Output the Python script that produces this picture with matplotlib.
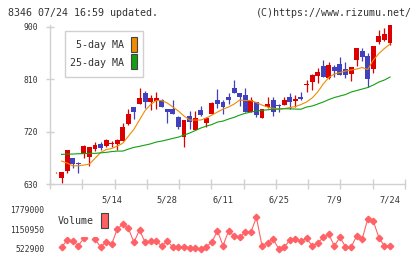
import matplotlib
matplotlib.use('Agg')
import matplotlib.pyplot as plt
import numpy as np
from matplotlib.patches import Rectangle

# daily candles, 4/25 .. 7/24
opens = [650, 640, 653, 674, 665, 681, 677, 690, 698, 695,
         699, 698, 704, 733, 763, 768, 786, 770, 773, 775,
         759, 759, 745, 711, 747, 723, 757, 734, 750, 774,
         770, 780, 794, 786, 783, 754, 770, 744, 763, 774,
         765, 765, 779, 772, 780, 800, 805, 816, 832, 812,
         831, 836, 827, 819, 843, 858, 850, 827, 873, 877, 872]
highs = [651, 650, 688, 674, 668, 697, 693, 702, 702, 708,
         704, 707, 735, 758, 763, 794, 790, 783, 788, 776,
         759, 774, 747, 740, 756, 755, 764, 745, 771, 793,
         775, 786, 808, 786, 794, 779, 770, 758, 779, 779,
         768, 779, 787, 783, 788, 808, 819, 829, 843, 840,
         834, 848, 840, 831, 864, 863, 854, 867, 894, 897, 903]
lows = [649, 631, 649, 658, 649, 675, 661, 686, 688, 693,
        693, 688, 704, 731, 741, 768, 760, 757, 758, 762,
        735, 750, 725, 694, 725, 722, 747, 727, 750, 760,
        751, 768, 786, 764, 754, 754, 745, 744, 760, 747,
        754, 765, 758, 763, 774, 788, 791, 804, 814, 811,
        814, 817, 812, 807, 833, 841, 797, 820, 871, 875, 868]
closes = [650, 650, 688, 665, 664, 695, 693, 697, 691, 705,
          700, 705, 727, 751, 754, 778, 771, 777, 778, 763,
          753, 750, 727, 740, 737, 743, 748, 744, 769, 767,
          763, 774, 786, 779, 754, 774, 748, 758, 767, 754,
          764, 774, 771, 776, 776, 801, 817, 823, 814, 834,
          824, 817, 817, 831, 863, 848, 811, 867, 884, 887, 903]

ma5 = [np.nan, 669.3, 665.9, 661.2, 661.2, 662.5, 664.2, 674, 684, 689,
       691, 695, 700, 712, 724, 740, 756, 766.4, 773.2, 773.2,
       768.9, 762.1, 755.2, 746.6, 739.8, 739.8, 739.8, 743.2, 748.3, 753.5,
       758.6, 762.1, 767.2, 774.1, 773.2, 773.2, 769.8, 765.5, 762.1, 759.9,
       758.6, 759.5, 761.2, 762.9, 766.4, 770.7, 777.5, 787.8, 801.6, 812.7,
       818.8, 821.3, 823.9, 825.6, 827.3, 829.9, 826.5, 842.8, 854.0, 862.6, 870.3]
ma25 = [np.nan, 680.8, 681.4, 681.4, 681.9, 682.2, 682.6, 682.6, 683.4, 684.3,
        685.6, 686.5, 686.5, 689.9, 692.9, 694.6, 696.8, 698.9, 702.0, 703.7,
        705.9, 708.3, 710.5, 714.0, 717.4, 721.7, 726.0, 729.4, 732.0, 736.3,
        738.0, 741.5, 744.4, 748.3, 751.3, 753.5, 755.2, 756.4, 757.4, 758.3,
        758.6, 759.2, 759.0, 758.6, 758.3, 762.1, 763.8, 767.2, 770.7, 774.9,
        778.4, 781.0, 783.5, 787.8, 790.4, 793.0, 795.6, 799.9, 805.0, 808.5, 813.6]

volume = [np.nan, 576700, 807700, 776000, 627300, 861400, 1779000, 829800, 595700, 734900,
          671600, 1155700, 1304400, 1177800, 734900, 1124100, 734900, 776000, 776000, 617800,
          776000, 576700, 595700, 595700, 564000, 545000, 522900, 595700, 734900, 1101900,
          627300, 1092400, 934200, 893100, 1051300, 1051300, 1525900, 627300, 722200, 839300,
          530000, 576700, 807700, 839300, 776000, 861400, 627300, 703200, 893100, 988000,
          617800, 893100, 595700, 576700, 934200, 839300, 1472100, 1408800, 880400, 617800, 617800]

date_pos = [10, 20, 30, 40, 50, 60]
date_labels = ['5/14', '5/28', '6/11', '6/25', '7/9', '7/24']
price_ticks = [630, 720, 810, 900]
vol_ticks = [522900, 1150950, 1779000]

W, H = 420, 259


def fx(px):
    return px / W


def fy(py):
    return 1 - py / H


plt.rcParams['font.family'] = 'DejaVu Sans Mono'
txt = '#333333'
axcol = '#d0d0d0'
red = '#dd0000'
blue = '#4141bd'

fig = plt.figure(figsize=(4.2, 2.59), dpi=100)
fig.patch.set_facecolor('white')

ax = fig.add_axes([fx(50), fy(184), fx(405) - fx(50), fy(25) - fy(184)])
x = np.arange(len(closes))
o = np.array(opens, float)
c = np.array(closes, float)
cols = [red if cc >= oo else blue for oo, cc in zip(o, c)]
ax.vlines(x, lows, highs, colors=cols, lw=0.9, zorder=2)
ax.bar(x, np.maximum(np.abs(c - o), 1.2), bottom=np.minimum(o, c), width=0.88,
       color=cols, linewidth=0, zorder=2)
ax.plot(x, ma5, color='#f08a00', lw=0.8, zorder=3)
ax.plot(x, ma25, color='#12a012', lw=0.8, zorder=3)

xmin, xmax = (50 - 56) / 5.567, (405 - 56) / 5.567
ax.set_xlim(xmin, xmax)
ax.set_ylim(630, 902.9)
for s in ['top', 'right']:
    ax.spines[s].set_visible(False)
for s in ['left', 'bottom']:
    ax.spines[s].set_color(axcol)
    ax.spines[s].set_linewidth(1)
ax.set_yticks(price_ticks)
ax.set_yticklabels([str(v) for v in price_ticks])
ax.tick_params(axis='y', direction='inout', length=6, width=1, color=axcol,
               labelsize=5.8, labelcolor=txt, pad=5.5)
ax.set_xticks(date_pos)
ax.set_xticklabels(date_labels)
ax.set_xticks(np.linspace(xmin, xmax, 12), minor=True)
ax.tick_params(axis='x', which='major', length=0, labelsize=6.2, labelcolor=txt, pad=8)
ax.tick_params(axis='x', which='minor', direction='inout', length=6.5, width=1, color=axcol)

# MA legend
fig.add_artist(Rectangle((fx(65), fy(77.3)), fx(143.3) - fx(65), fy(30.7) - fy(77.3),
                         facecolor='white', edgecolor=axcol, lw=1, zorder=5))
fig.text(fx(124), fy(45.5), '5-day MA', ha='right', va='center', fontsize=7.2, color=txt, zorder=6)
fig.text(fx(124), fy(62.5), '25-day MA', ha='right', va='center', fontsize=7.2, color=txt, zorder=6)
fig.add_artist(Rectangle((fx(131.3), fy(52.3)), fx(6), fy(0) - fy(15),
                         facecolor='#f08a00', edgecolor='#444444', lw=0.8, zorder=6))
fig.add_artist(Rectangle((fx(131.3), fy(69.3)), fx(6), fy(0) - fy(15),
                         facecolor='#12a012', edgecolor='#444444', lw=0.8, zorder=6))

# volume panel
vax = fig.add_axes([fx(50), fy(249), fx(405) - fx(50), fy(209.3) - fy(249)])
vax.plot(x, volume, color='#ff6266', lw=0.8, marker='D', markersize=3.3,
         clip_on=False, zorder=2)
vax.set_xlim(xmin, xmax)
vax.set_ylim(522900, 1779000)
for s in vax.spines.values():
    s.set_visible(False)
vax.set_xticks([])
vax.set_yticks(vol_ticks)
vax.set_yticklabels([str(v) for v in vol_ticks])
vax.tick_params(axis='y', length=0, labelsize=5.8, labelcolor=txt, pad=4)
vax.patch.set_alpha(0)

fig.add_artist(Rectangle((fx(52), fy(237)), fx(112) - fx(52), fy(205) - fy(237),
                         facecolor='white', edgecolor='none', zorder=5))
fig.text(fx(58), fy(221), 'Volume', ha='left', va='center', fontsize=7.2, color=txt, zorder=6)
fig.add_artist(Rectangle((fx(101), fy(228.3)), fx(6.7), fy(0) - fy(15),
                         facecolor='#ff6060', edgecolor='#444444', lw=0.8, zorder=6))

# header
fig.text(fx(8), fy(12.7), '8346 07/24 16:59 updated.', ha='left', va='center',
         fontsize=7.2, color=txt)
fig.text(fx(412), fy(12.7), '(C)https://www.rizumu.net/', ha='right', va='center',
         fontsize=7.2, color=txt)

fig.savefig('out.png', dpi=100)
